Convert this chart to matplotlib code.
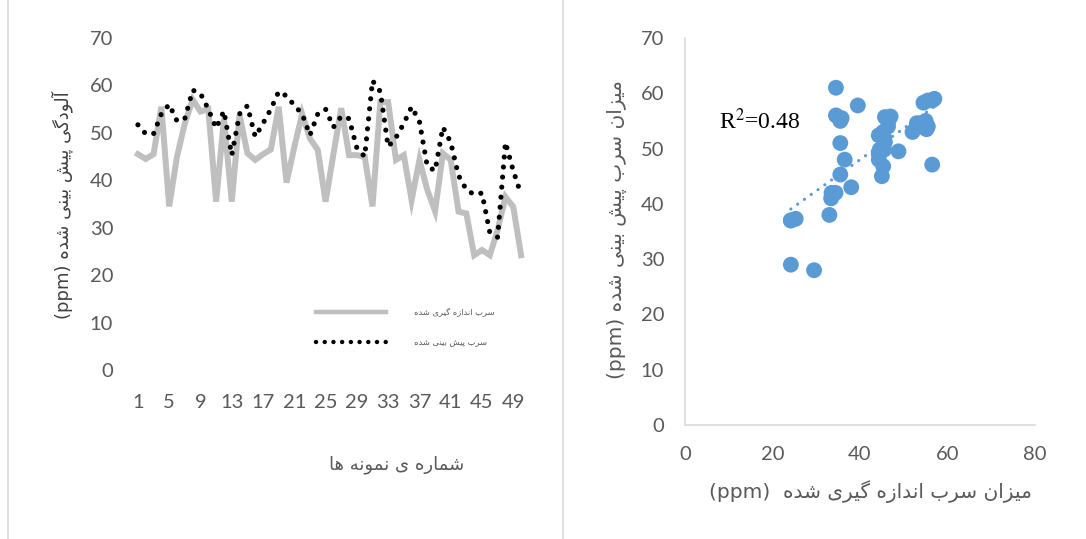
import numpy as np
import matplotlib
matplotlib.use("Agg")
import matplotlib.pyplot as plt
from matplotlib.lines import Line2D

# measured vs. predicted lead (ppm) for 50 samples
sample_no = np.arange(1, 51)
measured = [45.5, 44.5, 45.5, 55.5, 34.5, 45.0, 52.0, 57.0, 54.5, 55.0,
            35.5, 53.0, 35.5, 53.8, 45.7, 44.3, 45.5, 46.5, 55.5, 39.5,
            47.0, 54.0, 48.8, 46.4, 35.5, 45.5, 55.2, 45.3, 45.3, 45.0,
            34.5, 56.5, 56.5, 44.3, 45.3, 35.8, 44.3, 38.0, 33.5, 45.7,
            44.3, 33.4, 33.0, 24.2, 25.3, 24.2, 29.5, 36.5, 34.4, 24.2]
predicted = [51.7, 49.8, 49.8, 54.0, 56.0, 52.5, 53.0, 59.0, 58.3, 55.0,
             51.0, 54.6, 45.3, 54.0, 55.7, 49.2, 52.0, 55.0, 58.7, 57.8,
             55.8, 54.0, 49.5, 54.0, 55.0, 51.2, 53.5, 53.0, 46.8, 45.0,
             61.0, 58.7, 47.1, 49.0, 52.0, 55.5, 52.4, 43.0, 42.0, 51.2,
             48.0, 41.0, 38.0, 37.0, 37.3, 29.0, 28.0, 48.0, 42.0, 37.0]
xtick_labels = list(range(1, 51, 4))
r2_text = r"R$^2$=0.48"

# --- minimal Persian shaping: (isolated, final, initial, medial) ---
FORMS = {
    "\u0622": ("\uFE81", "\uFE82", None, None),
    "\u0627": ("\uFE8D", "\uFE8E", None, None),
    "\u0628": ("\uFE8F", "\uFE90", "\uFE91", "\uFE92"),
    "\u062F": ("\uFEA9", "\uFEAA", None, None),
    "\u0631": ("\uFEAD", "\uFEAE", None, None),
    "\u0632": ("\uFEAF", "\uFEB0", None, None),
    "\u0633": ("\uFEB1", "\uFEB2", "\uFEB3", "\uFEB4"),
    "\u0634": ("\uFEB5", "\uFEB6", "\uFEB7", "\uFEB8"),
    "\u0644": ("\uFEDD", "\uFEDE", "\uFEDF", "\uFEE0"),
    "\u0645": ("\uFEE1", "\uFEE2", "\uFEE3", "\uFEE4"),
    "\u0646": ("\uFEE5", "\uFEE6", "\uFEE7", "\uFEE8"),
    "\u0647": ("\uFEE9", "\uFEEA", "\uFEEB", "\uFEEC"),
    "\u0648": ("\uFEED", "\uFEEE", None, None),
    "\u067E": ("\uFB56", "\uFB57", "\uFB58", "\uFB59"),
    "\u06AF": ("\uFB92", "\uFB93", "\uFB94", "\uFB95"),
    "\u06CC": ("\uFBFC", "\uFBFD", "\uFBFE", "\uFBFF"),
}


def shape_word(word):
    out = []
    for i, ch in enumerate(word):
        forms = FORMS.get(ch)
        if forms is None:
            out.append(ch)
            continue
        prev = word[i - 1] if i > 0 else None
        nxt = word[i + 1] if i < len(word) - 1 else None
        join_prev = prev in FORMS and FORMS[prev][2] is not None
        join_next = forms[2] is not None and nxt in FORMS
        if join_prev and join_next:
            out.append(forms[3])
        elif join_prev:
            out.append(forms[1])
        elif join_next:
            out.append(forms[2])
        else:
            out.append(forms[0])
    return "".join(reversed(out))


def rtl(text):
    words = text.split(" ")
    vis = [shape_word(w) if any(c in FORMS for c in w) else w for w in reversed(words)]
    return " ".join(vis)


plt.rcParams["mathtext.fontset"] = "stix"

W, H = 1086, 539
fig = plt.figure(figsize=(W / 100, H / 100), dpi=100)
NUM_FONT = ["Lato", "DejaVu Sans"]
FA_FONT = ["DejaVu Sans"]
TXT = "#595959"
GRID = "#D9D9D9"

# panel borders
for px in (8, 563):
    fig.add_artist(Line2D([px / W, px / W], [0, 1], color=GRID, lw=1.2))

# ---------------- left: line chart ----------------
ax1 = fig.add_axes([134 / W, 1 - 370 / H, 391 / W, 332 / H])
ax1.plot(sample_no, measured, color="#BFBFBF", lw=4.3, solid_joinstyle="miter",
         label=rtl("سرب اندازه گیری شده"))
ax1.plot(sample_no, predicted, color="black", lw=3.7, linestyle=(0, (0.01, 1.95)),
         dash_capstyle="round", label=rtl("سرب پیش بینی شده"))
ax1.set_xlim(0.5, 50.5)
ax1.set_ylim(0, 70)
ax1.set_xticks(xtick_labels)
ax1.set_xticklabels([str(v) for v in xtick_labels])
ax1.set_yticks(range(0, 71, 10))
for s in ax1.spines.values():
    s.set_visible(False)
ax1.tick_params(length=0, labelsize=14.5, labelcolor=TXT)
ax1.tick_params(axis="y", pad=15)
ax1.tick_params(axis="x", pad=17)
for lab in ax1.get_xticklabels() + ax1.get_yticklabels():
    lab.set_family(NUM_FONT)
leg = ax1.legend(loc="upper left", bbox_to_anchor=(0.455, 0.2), frameon=False,
                 handlelength=8.4, handletextpad=3.3, labelspacing=2.5, borderpad=0,
                 prop={"family": FA_FONT, "size": 6})
for t in leg.get_texts():
    t.set_color(TXT)
for h in leg.legend_handles:
    h.set_linewidth(3.2)

fig.text(62 / W, 1 - 205 / H, rtl("آلودگی پیش بینی شده (ppm)"), rotation=90,
         ha="center", va="center", fontsize=13, color="#404040", family=FA_FONT)
fig.text(397 / W, 1 - 465 / H, rtl("شماره ی نمونه ها"), ha="center", va="center",
         fontsize=13, color=TXT, family=FA_FONT)

# ---------------- right: scatter ----------------
ax2 = fig.add_axes([685 / W, 1 - 425 / H, 350 / W, 387 / H])
ax2.scatter(measured, predicted, s=130, color="#5B9BD5", edgecolors="none", zorder=3)
slope, intercept = np.polyfit(measured, predicted, 1)
xs = np.array([min(measured), max(measured)])
ax2.plot(xs, slope * xs + intercept, color="#5B9BD5", lw=2.3,
         linestyle=(0, (0.01, 2.6)), dash_capstyle="round", zorder=2)
ax2.set_xlim(0, 80)
ax2.set_ylim(0, 70)
ax2.set_xticks(range(0, 81, 20))
ax2.set_yticks(range(0, 71, 10))
for side in ("top", "right"):
    ax2.spines[side].set_visible(False)
for side in ("left", "bottom"):
    ax2.spines[side].set_color(GRID)
    ax2.spines[side].set_linewidth(1.2)
ax2.tick_params(length=0, labelsize=14.5, labelcolor=TXT)
ax2.tick_params(axis="y", pad=15)
ax2.tick_params(axis="x", pad=15)
for lab in ax2.get_xticklabels() + ax2.get_yticklabels():
    lab.set_family(NUM_FONT)
fig.text(719 / W, 1 - 121 / H, r2_text, ha="left", va="center", fontsize=17,
         color="black", family="Liberation Serif")

fig.text(617 / W, 1 - 230 / H, rtl("میزان سرب پیش بینی شده (ppm)"), rotation=90,
         ha="center", va="center", fontsize=14.5, color=TXT, family=FA_FONT)
fig.text(870 / W, 1 - 492 / H, rtl("میزان سرب اندازه گیری شده  (ppm)"),
         ha="center", va="center", fontsize=14.5, color=TXT, family=FA_FONT)

fig.savefig("out.png", dpi=100)
